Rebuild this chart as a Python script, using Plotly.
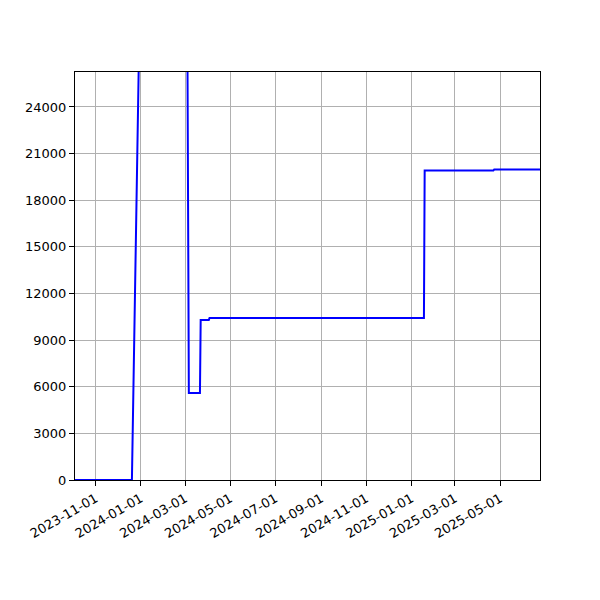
import plotly.graph_objects as go

# corner points of the running total
dates = [
    "2023-10-04", "2023-12-20", "2024-02-20", "2024-03-06", "2024-03-21",
    "2024-03-22", "2024-04-02", "2024-04-03", "2025-01-18", "2025-01-19",
    "2025-04-22", "2025-04-23", "2025-06-24",
]
values = [
    0, 0, 179000, 5600, 5600,
    10300, 10300, 10430, 10430, 19920,
    19920, 19970, 19970,
]

x_ticks = ["2023-11-01", "2024-01-01", "2024-03-01", "2024-05-01", "2024-07-01",
           "2024-09-01", "2024-11-01", "2025-01-01", "2025-03-01", "2025-05-01"]
y_ticks = [0, 3000, 6000, 9000, 12000, 15000, 18000, 21000, 24000]

fig = go.Figure()
fig.add_trace(go.Scatter(x=dates, y=values, mode="lines",
                         line=dict(color="#0000ff", width=2)))

axis_style = dict(
    showline=True, linecolor="black", linewidth=1.2, mirror=True,
    ticks="outside", ticklen=5, tickcolor="black",
    showgrid=True, gridcolor="#b0b0b0", gridwidth=1.1,
    zeroline=False, automargin=False, layer="below traces",
    tickfont=dict(family="DejaVu Sans", size=13, color="black"),
)

fig.update_xaxes(axis_style, type="date", range=["2023-10-04", "2025-06-24"],
                 tickvals=x_ticks, ticktext=x_ticks, tickangle=-30)
fig.update_yaxes(axis_style, range=[0, 26250], tickvals=y_ticks,
                 ticktext=[str(v) for v in y_ticks])

# page body adds 8px, so margins are trimmed to land the plot where the original sits
fig.update_layout(
    width=600, height=600,
    margin=dict(l=67, r=68, t=64, b=128),
    plot_bgcolor="white", paper_bgcolor="white",
    showlegend=False,
)

fig.write_html("out.html")
